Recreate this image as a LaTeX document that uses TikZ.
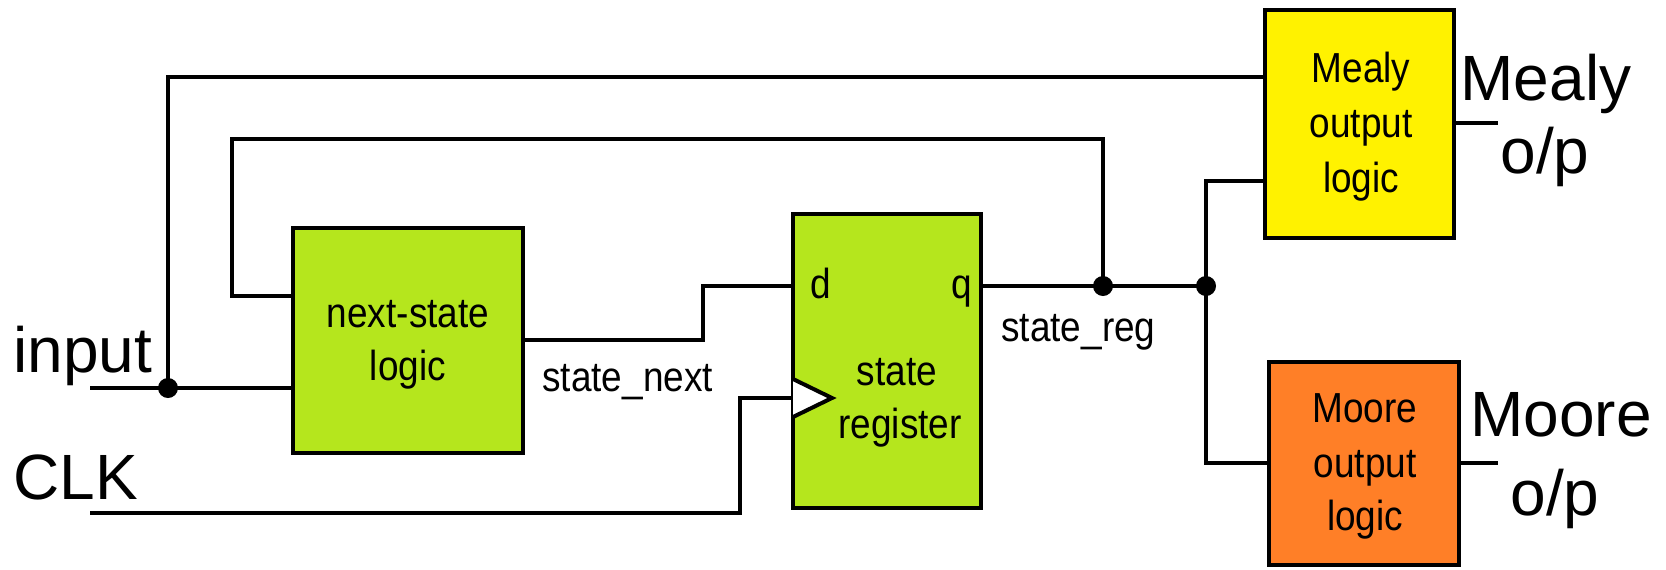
\documentclass[tikz,border=0pt]{standalone}
\usepackage{fontspec}
\setmainfont{Liberation Sans}
\newfontfamily\boxfont[FakeStretch=0.88]{Liberation Sans}
\definecolor{limeg}{HTML}{B5E61D}
\definecolor{mealyy}{HTML}{FFF200}
\definecolor{mooreo}{HTML}{FF7F27}
\begin{document}
\begin{tikzpicture}[x=0.5pt,y=-0.5pt,
  wire/.style={line width=2pt},
  blk/.style={draw,line width=2pt,inner sep=0pt,outer sep=0pt},
  btxt/.style={font=\boxfont\fontsize{21}{26}\selectfont,anchor=base,inner sep=0pt},
  big/.style={font=\fontsize{32}{38}\selectfont,anchor=base,inner sep=0pt},
  dotj/.style={circle,fill=black,inner sep=0pt,minimum size=10pt},
]
\useasboundingbox (0,0) rectangle (1666,569);
% blocks
\node[blk,fill=limeg,minimum width=115pt,minimum height=112.5pt] (ns) at (408,340.5) {};
\node[blk,fill=limeg,minimum width=94pt,minimum height=147pt] (sr) at (887,361) {};
\node[blk,fill=mealyy,minimum width=94.5pt,minimum height=114pt] (me) at (1359.5,124) {};
\node[blk,fill=mooreo,minimum width=95pt,minimum height=101.5pt] (mo) at (1364,463.5) {};
% junction dots
\node[dotj] (din) at (168,388) {};
\node[dotj] (dq1) at (1103,286) {};
\node[dotj] (dq2) at (1206,286) {};
% free ends and corners
\coordinate (inS) at (90,388);
\coordinate (clkS) at (90,513);
\coordinate (meO) at (1498,123);
\coordinate (moO) at (1498,463);
\coordinate (o1) at (168,77);
\coordinate (i1) at (232,139);
\coordinate (i2) at (232,296);
\coordinate (sn1) at (703,340);
\coordinate (sn2) at (703,286);
\coordinate (c1) at (740,513);
\coordinate (c2) at (740,398);
\coordinate (m1) at (1206,181);
\coordinate (m2) at (1206,463);
% wires
\draw[wire] (inS) -- (din.center) -- (din.center -| ns.west);
\draw[wire] (din.center) -- (o1) -- (o1 -| me.west);
\draw[wire] (dq1.center) |- (i1) -- (i2) -- (i2 -| ns.west);
\draw[wire] (sn1 -| ns.east) -- (sn1) -- (sn2) -- (sn2 -| sr.west);
\draw[wire] (clkS) -- (c1) -- (c2) -- (c2 -| sr.west);
\draw[wire] (dq1.center -| sr.east) -- (dq1.center) -- (dq2.center);
\draw[wire] (dq2.center) -- (m1) -- (m1 -| me.west);
\draw[wire] (dq2.center) -- (m2) -- (m2 -| mo.west);
\draw[wire] (meO -| me.east) -- (meO);
\draw[wire] (moO -| mo.east) -- (moO);
% clock triangle
\draw[wire,fill=white,line join=miter] (793,379) -- (832,398) -- (793,417);
% block texts
\node[btxt] (ns1) at (408,327) {next-state};
\node[btxt] (ns2) at (408,380) {logic};
\node[btxt] (sr1) at (897,385) {state};
\node[btxt] (sr2) at (900,438) {register};
\node[btxt,anchor=base west] (srd) at (810,298) {d};
\node[btxt,anchor=base west] (srq) at (951,298) {q};
\node[btxt] (me1) at (1361,82) {Mealy};
\node[btxt] (me2) at (1361,137) {output};
\node[btxt] (me3) at (1361,192) {logic};
\node[btxt] (mo1) at (1365,422) {Moore};
\node[btxt] (mo2) at (1365,477) {output};
\node[btxt] (mo3) at (1365,530) {logic};
% wire labels
\node[btxt,anchor=base west] (lsn) at (542,391) {state\_next};
\node[btxt,anchor=base west] (lsr) at (1001,341) {state\_reg};
% big labels
\node[big,anchor=base west] (lin) at (13,372) {input};
\node[big,anchor=base west] (lclk) at (13,499) {CLK};
\node[big] (lme1) at (1546,100) {Mealy};
\node[big] (lme2) at (1545,173) {o/p};
\node[big] (lmo1) at (1561,436) {Moore};
\node[big] (lmo2) at (1555,515) {o/p};
\end{tikzpicture}
\end{document}
